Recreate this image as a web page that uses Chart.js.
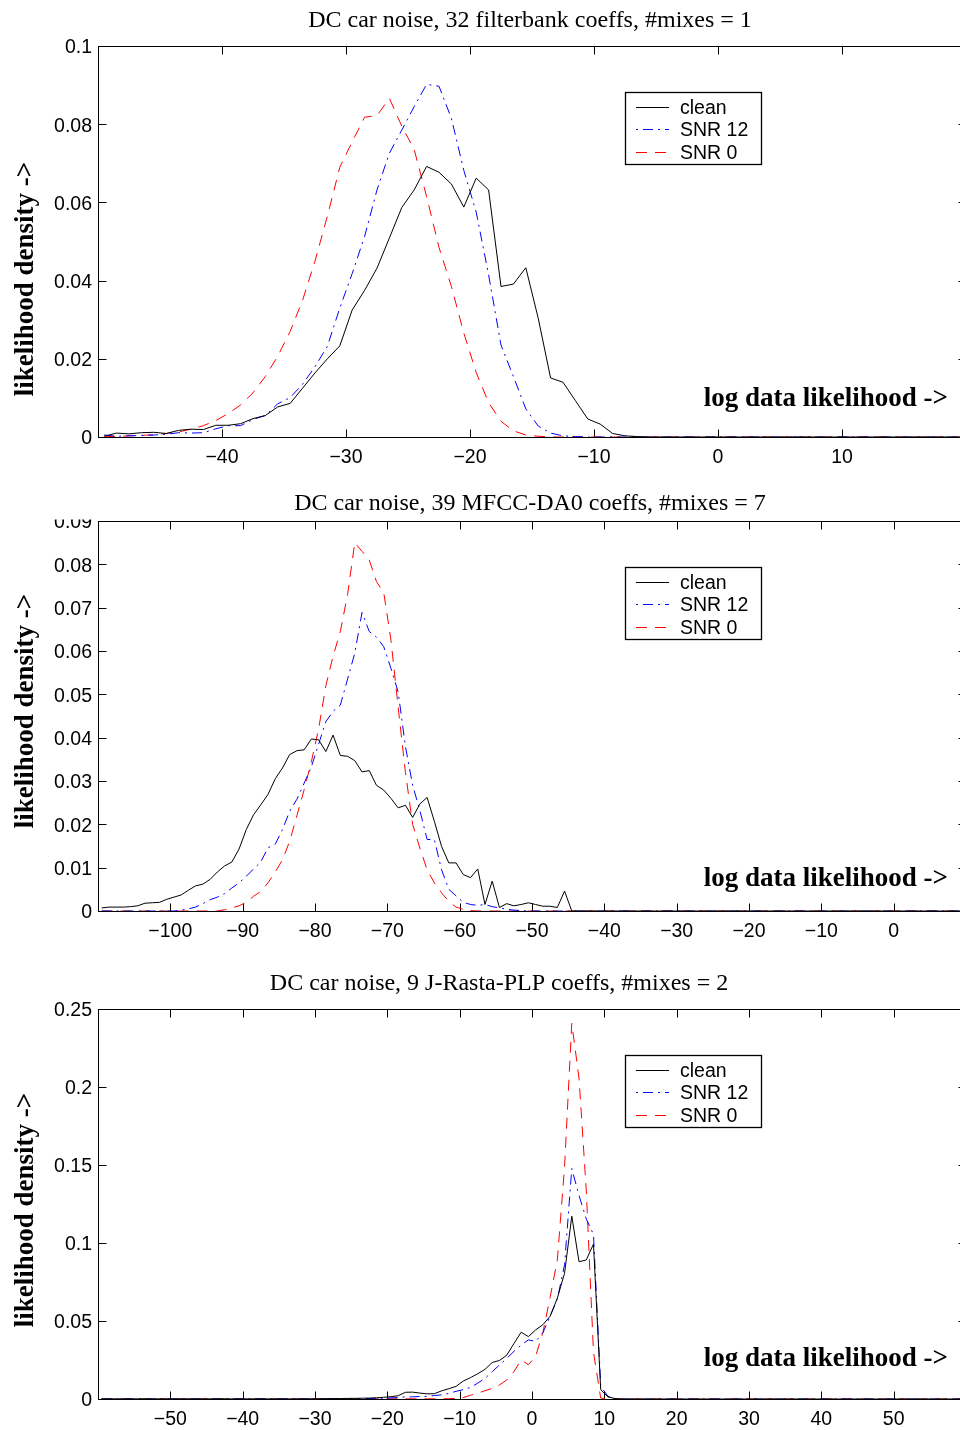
<!DOCTYPE html>
<html>
<head>
<meta charset="utf-8">
<title>DC car noise likelihood densities</title>
<script src="https://cdn.jsdelivr.net/npm/chart.js@4.4.1/dist/chart.umd.min.js"></script>
<style>
  html, body { margin: 0; padding: 0; background: #fff; overflow: hidden; }
  .panel { position: absolute; left: 0; width: 970px; }
  .panel canvas { display: block; }
</style>
</head>
<body>
<div class="panel" style="top:0px;height:480px"><canvas id="filterbank_chart_area" width="970" height="480"></canvas></div>
<div class="panel" style="top:480px;height:480px"><canvas id="mfcc_chart_area" width="970" height="480"></canvas></div>
<div class="panel" style="top:960px;height:470px"><canvas id="rasta_chart_area" width="970" height="470"></canvas></div>
<script>
// Panel 1: 32 filterbank coeffs, #mixes = 1
const filterbank_x = [
  -49.5, -48.5, -47.5, -46.5, -45.5, -44.5, -43.5, -42.5, -41.5, -40.5,
  -39.5, -38.5, -37.5, -36.5, -35.5, -34.5, -33.5, -32.5, -31.5, -30.5,
  -29.5, -28.5, -27.5, -26.5, -25.5, -24.5, -23.5, -22.5, -21.5, -20.5,
  -19.5, -18.5, -17.5, -16.5, -15.5, -14.5, -13.5, -12.5, -11.5, -10.5,
  -9.5, -8.5, -7.5, -6.5, -5.5, -4.5, -3.5, -2.5, -1.5, -0.5,
  0.5, 1.5, 2.5, 3.5, 4.5, 5.5, 6.5, 7.5, 8.5, 9.5,
  10.5, 11.5, 12.5, 13.5, 14.5, 15.5, 16.5, 17.5, 18.5, 19.5
];
const filterbank_clean = [
  0.0002, 0.001, 0.0008, 0.0011, 0.0012, 0.0009, 0.0017, 0.002, 0.0019, 0.003,
  0.003, 0.0034, 0.0047, 0.0055, 0.0077, 0.0086, 0.0125, 0.0164, 0.02, 0.0233,
  0.0325, 0.0375, 0.0432, 0.0509, 0.0587, 0.0632, 0.0692, 0.0677, 0.0647, 0.0588,
  0.0662, 0.0632, 0.0385, 0.0391, 0.0433, 0.0304, 0.0151, 0.014, 0.0093, 0.0046,
  0.0033, 0.0009, 0.0003, 0.0001, 0, 0, 0, 0, 0, 0,
  0, 0, 0, 0, 0, 0, 0, 0, 0, 0,
  0, 0, 0, 0, 0, 0, 0, 0, 0, 0
];
const filterbank_snr12 = [
  0.0005, 0.0002, 0.0003, 0.0004, 0.0005, 0.0007, 0.0011, 0.001, 0.0011, 0.0021,
  0.0029, 0.0029, 0.0045, 0.0055, 0.0085, 0.0101, 0.0135, 0.018, 0.0232, 0.033,
  0.0418, 0.0513, 0.0632, 0.0726, 0.0785, 0.0845, 0.0902, 0.0897, 0.0815, 0.0682,
  0.0575, 0.0415, 0.0235, 0.0155, 0.0072, 0.0028, 0.001, 0.0003, 0.0001, 0,
  0, 0, 0, 0, 0, 0, 0, 0, 0, 0,
  0, 0, 0, 0, 0, 0, 0, 0, 0, 0,
  0, 0, 0, 0, 0, 0, 0, 0, 0, 0
];
const filterbank_snr0 = [
  0.0002, 0.0001, 0.0003, 0.0004, 0.0006, 0.0009, 0.0013, 0.002, 0.0029, 0.0042,
  0.006, 0.0082, 0.0113, 0.0155, 0.0207, 0.027, 0.035, 0.045, 0.0565, 0.069,
  0.0755, 0.0818, 0.0822, 0.0866, 0.0795, 0.0735, 0.0615, 0.0485, 0.0385, 0.0266,
  0.0165, 0.0088, 0.004, 0.0016, 0.0005, 0.0002, 0, 0, 0, 0,
  0, 0, 0, 0, 0, 0, 0, 0, 0, 0,
  0, 0, 0, 0, 0, 0, 0, 0, 0, 0,
  0, 0, 0, 0, 0, 0, 0, 0, 0, 0
];

// Panel 2: 39 MFCC-DA0 coeffs, #mixes = 7
const mfcc_x = [
  -109.5, -108.5, -107.5, -106.5, -105.5, -104.5, -103.5, -102.5, -101.5, -100.5,
  -99.5, -98.5, -97.5, -96.5, -95.5, -94.5, -93.5, -92.5, -91.5, -90.5,
  -89.5, -88.5, -87.5, -86.5, -85.5, -84.5, -83.5, -82.5, -81.5, -80.5,
  -79.5, -78.5, -77.5, -76.5, -75.5, -74.5, -73.5, -72.5, -71.5, -70.5,
  -69.5, -68.5, -67.5, -66.5, -65.5, -64.5, -63.5, -62.5, -61.5, -60.5,
  -59.5, -58.5, -57.5, -56.5, -55.5, -54.5, -53.5, -52.5, -51.5, -50.5,
  -49.5, -48.5, -47.5, -46.5, -45.5, -44.5, -43.5, -42.5, -41.5, -40.5,
  -39.5, -38.5, -37.5, -36.5, -35.5, -34.5, -33.5, -32.5, -31.5, -30.5,
  -29.5, -28.5, -27.5, -26.5, -25.5, -24.5, -23.5, -22.5, -21.5, -20.5,
  -19.5, -18.5, -17.5, -16.5, -15.5, -14.5, -13.5, -12.5, -11.5, -10.5,
  -9.5, -8.5, -7.5, -6.5, -5.5, -4.5, -3.5, -2.5, -1.5, -0.5,
  0.5, 1.5, 2.5, 3.5, 4.5, 5.5, 6.5, 7.5, 8.5, 9.5
];
const mfcc_clean = [
  0.0007, 0.0009, 0.0009, 0.0009, 0.001, 0.0012, 0.0018, 0.0019, 0.002, 0.0027,
  0.0032, 0.0037, 0.0048, 0.0058, 0.0062, 0.0073, 0.009, 0.0104, 0.0113, 0.0143,
  0.0188, 0.0222, 0.0245, 0.0269, 0.0305, 0.033, 0.0361, 0.037, 0.0372, 0.0397,
  0.0395, 0.0368, 0.0406, 0.0359, 0.0357, 0.0347, 0.0321, 0.0324, 0.029, 0.0279,
  0.026, 0.0238, 0.0244, 0.0216, 0.0247, 0.0262, 0.0207, 0.0149, 0.0111, 0.0111,
  0.0084, 0.0077, 0.0097, 0.0015, 0.0069, 0.0008, 0.0017, 0.0012, 0.0015, 0.0019,
  0.0015, 0.0011, 0.0011, 0.0008, 0.0046, 0, 0, 0, 0, 0,
  0, 0, 0, 0, 0, 0, 0, 0, 0, 0,
  0, 0, 0, 0, 0, 0, 0, 0, 0, 0,
  0, 0, 0, 0, 0, 0, 0, 0, 0, 0,
  0, 0, 0, 0, 0, 0, 0, 0, 0, 0,
  0, 0, 0, 0, 0, 0, 0, 0, 0, 0
];
const mfcc_snr12 = [
  0, 0, 0, 0, 0, 0, 0, 0, 0, 0,
  0, 0.0002, 0.0005, 0.0009, 0.0017, 0.0026, 0.0032, 0.004, 0.0053, 0.0065,
  0.008, 0.0097, 0.0113, 0.0146, 0.0154, 0.0188, 0.023, 0.0258, 0.0295, 0.0333,
  0.0385, 0.0437, 0.0461, 0.0475, 0.0535, 0.0595, 0.0689, 0.0645, 0.0632, 0.061,
  0.056, 0.0505, 0.038, 0.029, 0.0232, 0.0165, 0.0165, 0.0095, 0.005, 0.0035,
  0.002, 0.0015, 0.0013, 0.0015, 0.001, 0.0007, 0.0004, 0.0002, 0.0001, 0,
  0, 0, 0, 0, 0, 0, 0, 0, 0, 0,
  0, 0, 0, 0, 0, 0, 0, 0, 0, 0,
  0, 0, 0, 0, 0, 0, 0, 0, 0, 0,
  0, 0, 0, 0, 0, 0, 0, 0, 0, 0,
  0, 0, 0, 0, 0, 0, 0, 0, 0, 0,
  0, 0, 0, 0, 0, 0, 0, 0, 0, 0
];
const mfcc_snr0 = [
  0, 0, 0, 0, 0, 0, 0, 0, 0, 0,
  0, 0, 0, 0, 0, 0, 0, 0.0003, 0.0007, 0.0012,
  0.002, 0.0034, 0.0045, 0.0065, 0.009, 0.0118, 0.0161, 0.022, 0.028, 0.0345,
  0.042, 0.052, 0.0588, 0.0645, 0.073, 0.085, 0.083, 0.081, 0.076, 0.0735,
  0.0625, 0.047, 0.032, 0.02, 0.0145, 0.0095, 0.0065, 0.0042, 0.0022, 0.0009,
  0.0004, 0.0001, 0, 0, 0, 0, 0, 0, 0, 0,
  0, 0, 0, 0, 0, 0, 0, 0, 0, 0,
  0, 0, 0, 0, 0, 0, 0, 0, 0, 0,
  0, 0, 0, 0, 0, 0, 0, 0, 0, 0,
  0, 0, 0, 0, 0, 0, 0, 0, 0, 0,
  0, 0, 0, 0, 0, 0, 0, 0, 0, 0,
  0, 0, 0, 0, 0, 0, 0, 0, 0, 0
];

// Panel 3: 9 J-Rasta-PLP coeffs, #mixes = 2
const rasta_x = [
  -59.5, -58.5, -57.5, -56.5, -55.5, -54.5, -53.5, -52.5, -51.5, -50.5,
  -49.5, -48.5, -47.5, -46.5, -45.5, -44.5, -43.5, -42.5, -41.5, -40.5,
  -39.5, -38.5, -37.5, -36.5, -35.5, -34.5, -33.5, -32.5, -31.5, -30.5,
  -29.5, -28.5, -27.5, -26.5, -25.5, -24.5, -23.5, -22.5, -21.5, -20.5,
  -19.5, -18.5, -17.5, -16.5, -15.5, -14.5, -13.5, -12.5, -11.5, -10.5,
  -9.5, -8.5, -7.5, -6.5, -5.5, -4.5, -3.5, -2.5, -1.5, -0.5,
  0.5, 1.5, 2.5, 3.5, 4.5, 5.5, 6.5, 7.5, 8.5, 9.5,
  10.5, 11.5, 12.5, 13.5, 14.5, 15.5, 16.5, 17.5, 18.5, 19.5,
  20.5, 21.5, 22.5, 23.5, 24.5, 25.5, 26.5, 27.5, 28.5, 29.5,
  30.5, 31.5, 32.5, 33.5, 34.5, 35.5, 36.5, 37.5, 38.5, 39.5,
  40.5, 41.5, 42.5, 43.5, 44.5, 45.5, 46.5, 47.5, 48.5, 49.5,
  50.5, 51.5, 52.5, 53.5, 54.5, 55.5, 56.5, 57.5, 58.5, 59.5
];
const rasta_clean = [
  0.0001, 0.0001, 0.0001, 0.0001, 0.0001, 0.0001, 0.0001, 0.0001, 0.0001, 0.0001,
  0.0001, 0.0001, 0.0001, 0.0001, 0.0001, 0.0001, 0.0001, 0.0001, 0.0001, 0.0001,
  0.0001, 0.0001, 0.0001, 0.0001, 0.0001, 0.0001, 0.0001, 0.0001, 0.0001, 0.0001,
  0.0002, 0.0002, 0.0003, 0.0003, 0.0004, 0.0004, 0.0005, 0.0006, 0.0008, 0.0011,
  0.0015, 0.0021, 0.0043, 0.0044, 0.0038, 0.0033, 0.0034, 0.0052, 0.0066, 0.0081,
  0.0115, 0.0137, 0.0162, 0.019, 0.0234, 0.0247, 0.028, 0.0355, 0.0428, 0.04,
  0.0443, 0.0476, 0.053, 0.0646, 0.0806, 0.1172, 0.088, 0.0891, 0.0993, 0.006,
  0.0013, 0.0003, 0, 0, 0, 0, 0, 0, 0, 0,
  0, 0, 0, 0, 0, 0, 0, 0, 0, 0,
  0, 0, 0, 0, 0, 0, 0, 0, 0, 0,
  0, 0, 0, 0, 0, 0, 0, 0, 0, 0,
  0, 0, 0, 0, 0, 0, 0, 0, 0, 0
];
const rasta_snr12 = [
  0.0001, 0.0001, 0.0001, 0.0001, 0.0001, 0.0001, 0.0001, 0.0001, 0.0001, 0.0001,
  0.0001, 0.0001, 0.0001, 0.0001, 0.0001, 0.0001, 0.0001, 0.0001, 0.0001, 0.0001,
  0.0001, 0.0001, 0.0001, 0.0001, 0.0001, 0.0001, 0.0001, 0.0001, 0.0001, 0.0001,
  0.0001, 0.0001, 0.0001, 0.0001, 0.0001, 0.0002, 0.0002, 0.0003, 0.0004, 0.0005,
  0.0007, 0.001, 0.0013, 0.0014, 0.0016, 0.0017, 0.0022, 0.0027, 0.0036, 0.0049,
  0.006, 0.0074, 0.0102, 0.0132, 0.0175, 0.0218, 0.026, 0.0305, 0.0345, 0.0379,
  0.0369, 0.0424, 0.053, 0.064, 0.086, 0.1477, 0.1305, 0.1155, 0.1055, 0.0081,
  0.0018, 0.0003, 0, 0, 0, 0, 0, 0, 0, 0,
  0, 0, 0, 0, 0, 0, 0, 0, 0, 0,
  0, 0, 0, 0, 0, 0, 0, 0, 0, 0,
  0, 0, 0, 0, 0, 0, 0, 0, 0, 0,
  0, 0, 0, 0, 0, 0, 0, 0, 0, 0
];
const rasta_snr0 = [
  0, 0, 0, 0, 0, 0, 0, 0, 0, 0,
  0, 0, 0, 0, 0, 0, 0, 0, 0, 0,
  0, 0, 0, 0, 0, 0, 0, 0, 0, 0,
  0.0001, 0.0001, 0.0001, 0.0001, 0.0001, 0.0001, 0.0001, 0.0001, 0.0001, 0.0001,
  0.0001, 0.0001, 0.0001, 0.0001, 0.0001, 0.0001, 0.0001, 0.0001, 0.0002, 0.0004,
  0.0009, 0.0024, 0.0037, 0.0053, 0.0068, 0.009, 0.0122, 0.0175, 0.0251, 0.022,
  0.0273, 0.0425, 0.065, 0.089, 0.1488, 0.2408, 0.2057, 0.134, 0.03, 0.0006,
  0.0001, 0, 0, 0, 0, 0, 0, 0, 0, 0,
  0, 0, 0, 0, 0, 0, 0, 0, 0, 0,
  0, 0, 0, 0, 0, 0, 0, 0, 0, 0,
  0, 0, 0, 0, 0, 0, 0, 0, 0, 0,
  0, 0, 0, 0, 0, 0, 0, 0, 0, 0
];

const series_labels = ["clean", "SNR 12", "SNR 0"];

const TICK_LEN = 8;
const SANS = "'Liberation Sans', Arial, Helvetica, sans-serif";
const SERIF = "'Liberation Serif', 'Times New Roman', Times, serif";

// Draws the MATLAB style box, inward ticks, titles, labels and legend
const matlab_axes_plugin = {
  id: "matlabAxes",
  beforeDatasetsDraw(chart) {
    const ctx = chart.ctx;
    const area = chart.chartArea;
    const x_scale = chart.scales.x;
    const y_scale = chart.scales.y;
    const l = Math.round(area.left) + 0.5;
    const r = Math.round(area.right) + 0.5;
    const t = Math.round(area.top) + 0.5;
    const b = Math.round(area.bottom) + 0.5;
    ctx.save();
    ctx.strokeStyle = "#000";
    ctx.lineWidth = 1;
    ctx.strokeRect(l, t, r - l, b - t);
    ctx.beginPath();
    x_scale.ticks.forEach((tick) => {
      const px = Math.round(x_scale.getPixelForValue(tick.value)) + 0.5;
      ctx.moveTo(px, b);
      ctx.lineTo(px, b - TICK_LEN);
      ctx.moveTo(px, t);
      ctx.lineTo(px, t + TICK_LEN);
    });
    y_scale.ticks.forEach((tick) => {
      const py = Math.round(y_scale.getPixelForValue(tick.value)) + 0.5;
      ctx.moveTo(l, py);
      ctx.lineTo(l + TICK_LEN, py);
      ctx.moveTo(r, py);
      ctx.lineTo(r - TICK_LEN, py);
    });
    ctx.stroke();
    ctx.restore();
  },
  afterDraw(chart, args, opts) {
    const ctx = chart.ctx;
    const area = chart.chartArea;
    ctx.save();

    // top y tick label is cut off in the original figure
    if (opts.clipTopLabel) {
      ctx.fillStyle = "#fff";
      ctx.fillRect(0, 0, area.left - 1, area.top - 1.5);
    }

    // title
    ctx.fillStyle = "#000";
    ctx.font = "24px " + SERIF;
    ctx.textAlign = "center";
    ctx.textBaseline = "alphabetic";
    ctx.fillText(opts.title, opts.titleX, opts.titleBaseline);

    // x label, written inside the axes
    ctx.font = "bold 27px " + SERIF;
    ctx.textAlign = "right";
    ctx.fillText("log data likelihood ->", 948, opts.xLabelBaseline);

    // y label
    ctx.save();
    ctx.translate(33, opts.yLabelCenter);
    ctx.rotate(-Math.PI / 2);
    ctx.textAlign = "center";
    ctx.fillText("likelihood density ->", 0, 0);
    ctx.restore();

    // legend
    const lx = 625.5;
    const ly = Math.round(area.top + 46) + 0.5;
    ctx.fillStyle = "#fff";
    ctx.fillRect(lx, ly, 136, 72);
    ctx.strokeStyle = "#000";
    ctx.lineWidth = 1.3;
    ctx.strokeRect(lx, ly, 136, 72);
    ctx.font = "19.5px " + SANS;
    ctx.textAlign = "left";
    ctx.textBaseline = "middle";
    chart.data.datasets.forEach((ds, i) => {
      const row_y = Math.round(ly + 14 + i * 22.8) + 0.5;
      ctx.strokeStyle = ds.borderColor;
      ctx.lineWidth = 1;
      ctx.setLineDash(ds.borderDash || []);
      ctx.lineDashOffset = ds.legendDashOffset || 0;
      ctx.beginPath();
      ctx.moveTo(636, row_y);
      ctx.lineTo(669, row_y);
      ctx.stroke();
      ctx.setLineDash([]);
      ctx.fillStyle = "#000";
      ctx.fillText(ds.label, 680, row_y + 1);
    });
    ctx.restore();
  },
};

function to_points(xs, ys) {
  return xs.map((x, i) => ({ x: x, y: ys[i] }));
}

function format_x(value) {
  return value < 0 ? "\u2212" + Math.abs(value) : String(value);
}

function format_y(value) {
  return String(parseFloat(value.toFixed(3)));
}

function make_density_chart(canvas_id, xs, clean, snr12, snr0, cfg) {
  const canvas = document.getElementById(canvas_id);
  const x_axis_height = canvas.height - cfg.plotTop - cfg.plotHeight;
  return new Chart(canvas.getContext("2d"), {
    type: "line",
    data: {
      datasets: [
        {
          label: series_labels[0],
          data: to_points(xs, clean),
          borderColor: "#000000",
          borderWidth: 1,
          pointRadius: 0,
          fill: false,
        },
        {
          label: series_labels[1],
          data: to_points(xs, snr12),
          borderColor: "#0000ff",
          borderWidth: 1,
          borderDash: [10, 5, 2, 5],
          legendDashOffset: 15,
          pointRadius: 0,
          fill: false,
        },
        {
          label: series_labels[2],
          data: to_points(xs, snr0),
          borderColor: "#ff0000",
          borderWidth: 1,
          borderDash: [11, 8],
          pointRadius: 0,
          fill: false,
        },
      ],
    },
    options: {
      responsive: false,
      animation: false,
      events: [],
      layout: {
        padding: { top: cfg.plotTop, right: 4, bottom: 0, left: 0 },
      },
      scales: {
        x: {
          type: "linear",
          min: cfg.xMin,
          max: cfg.xMax,
          afterBuildTicks: (scale) => {
            scale.ticks = scale.ticks.filter(
              (t) => t.value > cfg.xMin && t.value < cfg.xMax
            );
          },
          afterFit: (scale) => {
            scale.height = x_axis_height;
          },
          ticks: {
            stepSize: 10,
            autoSkip: false,
            maxRotation: 0,
            padding: 9,
            color: "#000",
            font: { family: SANS, size: 19.5 },
            callback: format_x,
          },
          grid: { display: false, drawTicks: false },
          border: { display: false },
        },
        y: {
          type: "linear",
          min: 0,
          max: cfg.yMax,
          afterFit: (scale) => {
            scale.width = 98;
          },
          ticks: {
            stepSize: cfg.yStep,
            autoSkip: false,
            padding: 6,
            labelOffset: 2,
            color: "#000",
            font: { family: SANS, size: 19.5 },
            callback: format_y,
          },
          grid: { display: false, drawTicks: false },
          border: { display: false },
        },
      },
      plugins: {
        legend: { display: false },
        tooltip: { enabled: false },
        matlabAxes: {
          title: cfg.title,
          titleX: cfg.titleX,
          titleBaseline: cfg.titleBaseline,
          xLabelBaseline: 406,
          yLabelCenter: cfg.yLabelCenter,
          clipTopLabel: cfg.clipTopLabel,
        },
      },
    },
    plugins: [matlab_axes_plugin],
  });
}

// The figure: three stacked panels
const filterbank_chart = make_density_chart(
  "filterbank_chart_area", filterbank_x, filterbank_clean, filterbank_snr12, filterbank_snr0,
  {
    title: "DC car noise, 32 filterbank coeffs, #mixes = 1",
    titleX: 530, titleBaseline: 27,
    plotTop: 46, plotHeight: 391,
    xMin: -50, xMax: 20, yMax: 0.1, yStep: 0.02,
    yLabelCenter: 279, clipTopLabel: false,
  }
);

const mfcc_chart = make_density_chart(
  "mfcc_chart_area", mfcc_x, mfcc_clean, mfcc_snr12, mfcc_snr0,
  {
    title: "DC car noise, 39 MFCC-DA0 coeffs, #mixes = 7",
    titleX: 530, titleBaseline: 30,
    plotTop: 41, plotHeight: 390,
    xMin: -110, xMax: 10, yMax: 0.09, yStep: 0.01,
    yLabelCenter: 231, clipTopLabel: true,
  }
);

const rasta_chart = make_density_chart(
  "rasta_chart_area", rasta_x, rasta_clean, rasta_snr12, rasta_snr0,
  {
    title: "DC car noise, 9 J-Rasta-PLP coeffs, #mixes = 2",
    titleX: 499, titleBaseline: 30,
    plotTop: 49, plotHeight: 390,
    xMin: -60, xMax: 60, yMax: 0.25, yStep: 0.05,
    yLabelCenter: 250, clipTopLabel: false,
  }
);
</script>
</body>
</html>
